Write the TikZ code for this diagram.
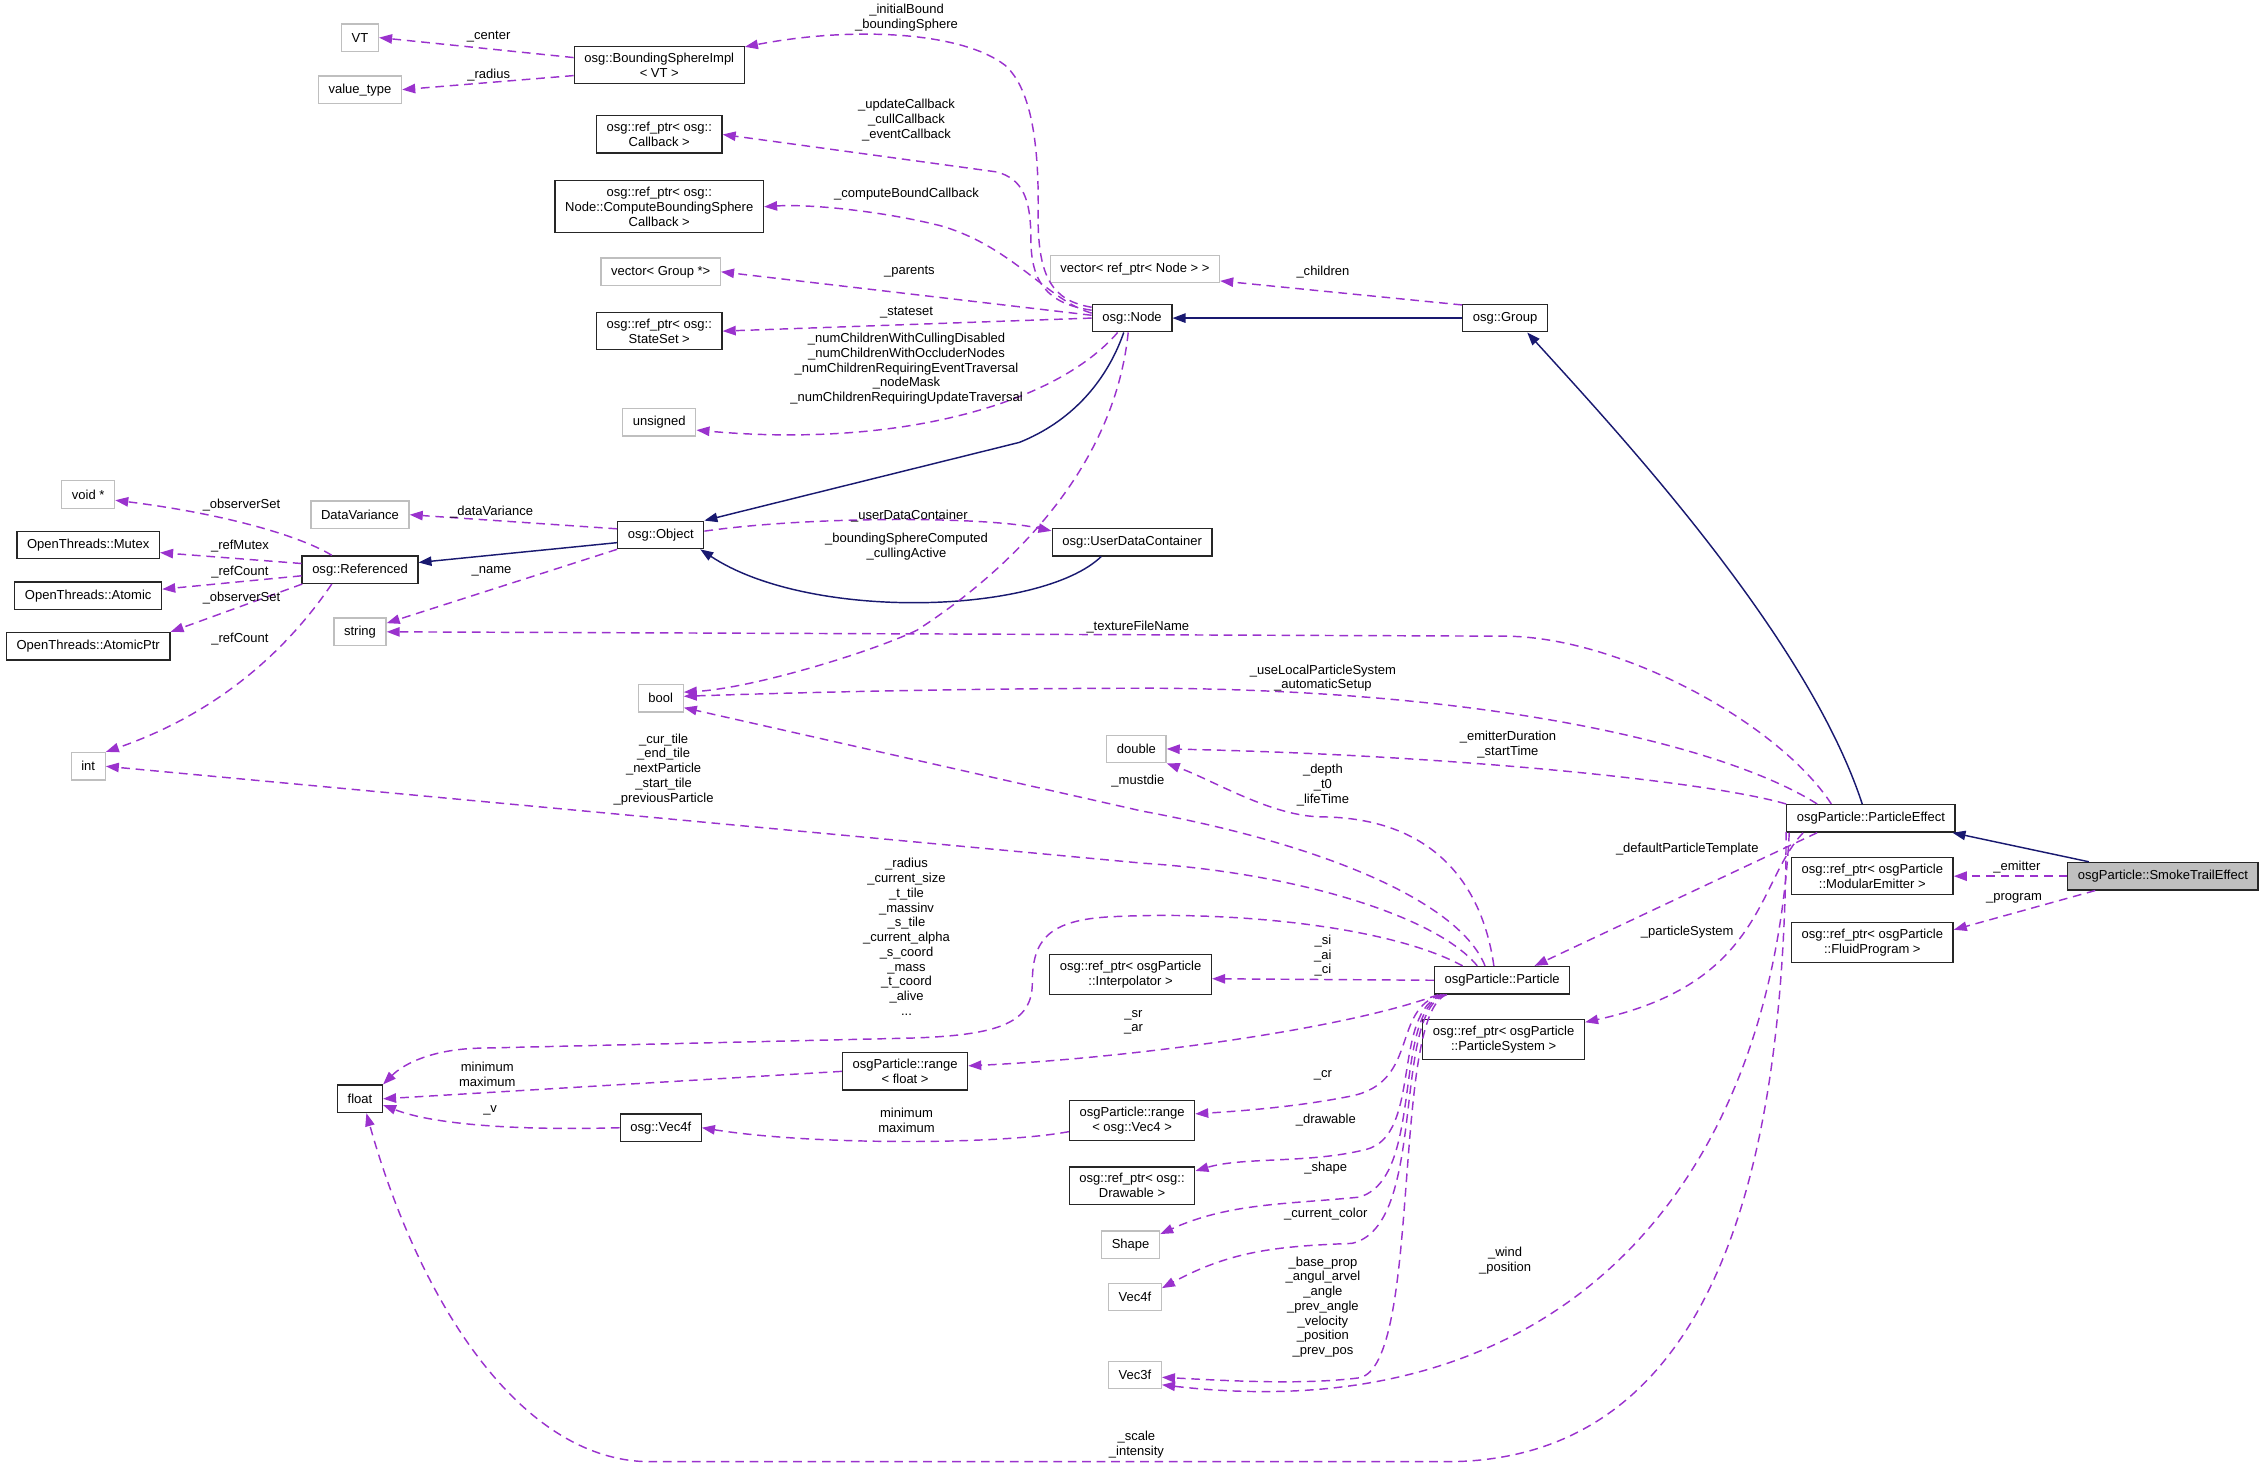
\documentclass[tikz,border=0pt]{standalone}
\usepackage{fontspec}
\setmainfont{Liberation Sans}
\usetikzlibrary{arrows.meta}

\definecolor{depcol}{HTML}{9A32CD}
\definecolor{inhcol}{HTML}{191970}
\definecolor{extcol}{HTML}{BFBFBF}

\begin{document}
\begin{tikzpicture}[x=1pt,y=-1pt,
   every node/.style={font=\fontsize{9}{10.2}\selectfont,align=center},
   cls/.style={draw=black!85,line width=0.9pt,fill=white,inner xsep=7pt,inner ysep=4.5pt,minimum height=19pt},
   ext/.style={cls,draw=extcol},
   focus/.style={cls,fill=extcol},
   lbl/.style={inner sep=0pt},
   inh/.style={draw=inhcol,line width=1pt,-{Triangle[length=9pt,width=6.5pt]}},
   dep/.style={draw=depcol,line width=1pt,dash pattern=on 6pt off 4pt,-{Triangle[length=9pt,width=6.5pt]}}]

\useasboundingbox (0,0) rectangle (1568,1013);

\node[ext] (vt) at (249,26) {VT};
\node[ext] (valtype) at (249,62) {value\_type};
\node[cls] (bsimpl) at (456,45) {osg::BoundingSphereImpl\\< VT >};
\node[cls] (cb) at (456,93) {osg::ref\_ptr< osg::\\Callback >};
\node[cls] (cbs) at (456,143) {osg::ref\_ptr< osg::\\Node::ComputeBoundingSphere\\Callback >};
\node[ext] (vgrp) at (457,188) {vector< Group *>};
\node[cls] (sset) at (456,229) {osg::ref\_ptr< osg::\\StateSet >};
\node[ext] (uns) at (456,292) {unsigned};
\node[ext] (vnode) at (785,186) {vector< ref\_ptr< Node > >};
\node[cls] (node) at (783,220) {osg::Node};
\node[cls] (group) at (1041,220) {osg::Group};
\node[ext] (void) at (61,342) {void *};
\node[ext] (dvar) at (249,356) {DataVariance};
\node[cls] (mutex) at (61,377) {OpenThreads::Mutex};
\node[cls] (refd) at (249,394) {osg::Referenced};
\node[cls] (obj) at (457,370) {osg::Object};
\node[cls] (udc) at (783,375) {osg::UserDataContainer};
\node[cls] (atomic) at (61,412) {OpenThreads::Atomic};
\node[cls] (aptr) at (61,447) {OpenThreads::AtomicPtr};
\node[ext] (str) at (249,437) {string};
\node[ext] (bool) at (457,483) {bool};
\node[ext] (int) at (61,530) {int};
\node[ext] (dbl) at (786,518) {double};
\node[cls] (effect) at (1294,566) {osgParticle::ParticleEffect};
\node[cls] (emit) at (1295,606) {osg::ref\_ptr< osgParticle\\::ModularEmitter >};
\node[cls] (fluid) at (1295,652) {osg::ref\_ptr< osgParticle\\::FluidProgram >};
\node[focus] (smoke) at (1496,606) {osgParticle::SmokeTrailEffect};
\node[cls] (interp) at (782,674) {osg::ref\_ptr< osgParticle\\::Interpolator >};
\node[cls] (part) at (1039,678) {osgParticle::Particle};
\node[cls] (psys) at (1040,719) {osg::ref\_ptr< osgParticle\\::ParticleSystem >};
\node[cls] (rflt) at (626,741) {osgParticle::range\\< float >};
\node[cls] (flt) at (249,760) {float};
\node[cls] (ovec) at (457,780) {osg::Vec4f};
\node[cls] (rvec) at (783,775) {osgParticle::range\\< osg::Vec4 >};
\node[cls] (drawbl) at (783,820) {osg::ref\_ptr< osg::\\Drawable >};
\node[ext] (shape) at (782,861) {Shape};
\node[ext] (vfour) at (785,897) {Vec4f};
\node[ext] (vthree) at (785,951) {Vec3f};

\draw[inh] (group.west) -- (node.east);
\draw[inh] (node.-120) .. controls (765,265) and (740,292) .. (705,306) -- (obj.north east);
\draw[inh] (obj.190) -- (refd.7);
\draw[inh] (udc.-155) .. controls (720,425) and (560,430) .. (obj.-20);
\draw[inh] (effect.121) .. controls (1250,440) and (1120,300) .. (group.-33);
\draw[inh] (smoke.169) -- (effect.-10);

\draw[dep] (bsimpl.175) -- (vt.east);
\draw[dep] (bsimpl.187) -- (valtype.east);
\draw[dep] (node.165) .. controls (728,208) and (718,192) .. (718,150) .. controls (719,95) and (712,60) .. (695,45) .. controls (665,22) and (590,18) .. (bsimpl.12);
\draw[dep] (node.169) .. controls (724,210) and (713,195) .. (713,165) .. controls (713,135) and (706,124) .. (690,119) -- (cb.east);
\draw[dep] (node.173) .. controls (725,208) and (700,170) .. (650,156) .. controls (610,146) and (560,141) .. (cbs.east);
\draw[dep] (node.176) -- (vgrp.east);
\draw[dep] (node.west) -- (sset.east);
\draw[dep] (node.-135) .. controls (730,280) and (620,310) .. (uns.-12);
\draw[dep] (node.-105) .. controls (770,330) and (690,400) .. (634,436) .. controls (600,452) and (520,476) .. (bool.15);
\draw[dep] (group.163) -- (vnode.-8);
\draw[dep] (obj.172) -- (dvar.east);
\draw[dep] (obj.5) .. controls (560,357) and (680,357) .. (udc.172);
\draw[dep] (obj.south west) -- (str.18);
\draw[dep] (refd.153) .. controls (210,372) and (160,356) .. (void.-12);
\draw[dep] (refd.174) -- (mutex.-6);
\draw[dep] (refd.186) -- (atomic.5);
\draw[dep] (refd.-166) -- (aptr.north east);
\draw[dep] (refd.-153) .. controls (205,440) and (160,490) .. (int.north east);

\draw[dep] (effect.160) .. controls (1230,500) and (1120,440) .. (1040,440) -- (str.east);
\draw[dep] (effect.165) .. controls (1200,520) and (1050,478) .. (800,476) .. controls (650,476) and (520,480) .. (bool.5);
\draw[dep] (effect.north west) .. controls (1180,540) and (1000,522) .. (dbl.east);
\draw[dep] (effect.-165) -- (part.24);
\draw[dep] (effect.-168) .. controls (1215,610) and (1220,680) .. (psys.12);
\draw[dep] (effect.-170) .. controls (1225,820) and (1080,990) .. (vthree.-20);
\draw[dep] (effect.-171) .. controls (1235,800) and (1190,1011) .. (1000,1011) -- (450,1011) .. controls (360,1011) and (290,900) .. (flt.-66);
\draw[dep] (smoke.west) -- (emit.east);
\draw[dep] (smoke.-168) -- (fluid.9);

\draw[dep] (part.150) .. controls (995,635) and (900,604) .. (790,597) -- (int.east);
\draw[dep] (part.140) .. controls (1010,625) and (920,585) .. (790,561) -- (bool.-22);
\draw[dep] (part.120) .. controls (1025,610) and (990,566) .. (915,565) .. controls (880,565) and (840,540) .. (dbl.south east);
\draw[dep] (part.160) .. controls (960,640) and (850,630) .. (770,634) .. controls (725,636) and (714,650) .. (714,680) .. controls (714,708) and (690,716) .. (630,718) -- (330,725) .. controls (300,726) and (280,735) .. (flt.north east);
\draw[dep] (part.west) -- (interp.-3);
\draw[dep] ([xshift=3pt]part.south west) .. controls (930,712) and (780,732) .. (rflt.5);
\draw[dep] ([xshift=5pt]part.south west) .. controls (962,698) and (982,748) .. (935,758) .. controls (900,765) and (865,768) .. (rvec.6);
\draw[dep] ([xshift=6pt]part.south west) .. controls (962,700) and (984,785) .. (945,795) .. controls (905,805) and (860,800) .. (drawbl.13);
\draw[dep] ([xshift=7pt]part.south west) .. controls (962,700) and (986,815) .. (940,828) .. controls (890,833) and (850,832) .. (shape.20);
\draw[dep] ([xshift=8pt]part.south west) .. controls (962,700) and (988,848) .. (935,860) .. controls (880,862) and (850,866) .. (vfour.18);
\draw[dep] ([xshift=9pt]part.south west) .. controls (962,700) and (984,945) .. (940,953) .. controls (900,958) and (850,955) .. (vthree.-5);
\draw[dep] (rflt.west) -- (flt.east);
\draw[dep] (ovec.west) .. controls (360,782) and (300,778) .. (flt.-15);
\draw[dep] (rvec.-170) .. controls (690,792) and (560,792) .. (ovec.east);

\node[lbl] (l-center) at (338,25) {\_center};
\node[lbl] (l-radius) at (338,52) {\_radius};
\node[lbl] (l-initial) at (627,12) {\_initialBound\\\_boundingSphere};
\node[lbl] (l-update) at (627,83) {\_updateCallback\\\_cullCallback\\\_eventCallback};
\node[lbl] (l-compute) at (627,134) {\_computeBoundCallback};
\node[lbl] (l-parents) at (629,188) {\_parents};
\node[lbl] (l-stateset) at (627,216) {\_stateset};
\node[lbl] (l-numchildren) at (627,255) {\_numChildrenWithCullingDisabled\\\_numChildrenWithOccluderNodes\\\_numChildrenRequiringEventTraversal\\\_nodeMask\\\_numChildrenRequiringUpdateTraversal};
\node[lbl] (l-children) at (915,188) {\_children};
\node[lbl] (l-datavar) at (340,354) {\_dataVariance};
\node[lbl] (l-observer) at (167,349) {\_observerSet};
\node[lbl] (l-refmutex) at (166,378) {\_refMutex};
\node[lbl] (l-refcount) at (166,396) {\_refCount};
\node[lbl] (l-observerptr) at (167,414) {\_observerSet};
\node[lbl] (l-refcountint) at (166,442) {\_refCount};
\node[lbl] (l-userdata) at (629,357) {\_userDataContainer};
\node[lbl] (l-bscomputed) at (627,378) {\_boundingSphereComputed\\\_cullingActive};
\node[lbl] (l-name) at (340,395) {\_name};
\node[lbl] (l-texture) at (787,434) {\_textureFileName};
\node[lbl] (l-uselocal) at (915,469) {\_useLocalParticleSystem\\\_automaticSetup};
\node[lbl] (l-emitterdur) at (1043,515) {\_emitterDuration\\\_startTime};
\node[lbl] (l-depth) at (915,543) {\_depth\\\_t0\\\_lifeTime};
\node[lbl] (l-mustdie) at (787,540) {\_mustdie};
\node[lbl] (l-curtile) at (459,532) {\_cur\_tile\\\_end\_tile\\\_nextParticle\\\_start\_tile\\\_previousParticle};
\node[lbl] (l-radiusf) at (627,648) {\_radius\\\_current\_size\\\_t\_tile\\\_massinv\\\_s\_tile\\\_current\_alpha\\\_s\_coord\\\_mass\\\_t\_coord\\\_alive\\...};
\node[lbl] (l-minmaxf) at (337,743) {minimum\\maximum};
\node[lbl] (l-v) at (339,768) {\_v};
\node[lbl] (l-minmaxv) at (627,775) {minimum\\maximum};
\node[lbl] (l-scale) at (786,999) {\_scale\\\_intensity};
\node[lbl] (l-si) at (915,661) {\_si\\\_ai\\\_ci};
\node[lbl] (l-sr) at (784,707) {\_sr\\\_ar};
\node[lbl] (l-cr) at (915,744) {\_cr};
\node[lbl] (l-drawable) at (917,775) {\_drawable};
\node[lbl] (l-shape) at (917,808) {\_shape};
\node[lbl] (l-curcolor) at (917,840) {\_current\_color};
\node[lbl] (l-baseprop) at (915,904) {\_base\_prop\\\_angul\_arvel\\\_angle\\\_prev\_angle\\\_velocity\\\_position\\\_prev\_pos};
\node[lbl] (l-wind) at (1041,872) {\_wind\\\_position};
\node[lbl] (l-defpart) at (1167,587) {\_defaultParticleTemplate};
\node[lbl] (l-psys) at (1167,645) {\_particleSystem};
\node[lbl] (l-emitter) at (1395,600) {\_emitter};
\node[lbl] (l-program) at (1393,621) {\_program};

\end{tikzpicture}
\end{document}
